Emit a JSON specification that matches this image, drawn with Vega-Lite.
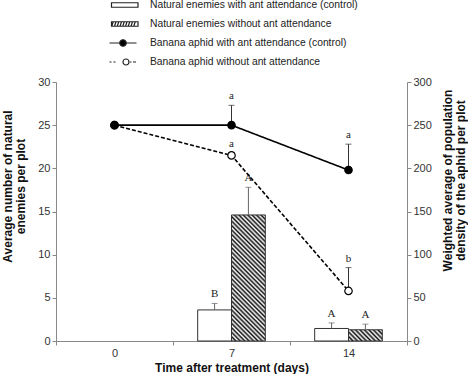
{
  "$schema": "https://vega.github.io/schema/vega-lite/v6.json",
  "width": 468,
  "height": 374,
  "autosize": {"type": "fit", "contains": "padding"},
  "padding": {"left": 1, "right": 1, "top": 76, "bottom": 1},
  "background": "white",
  "config": {
    "view": {"stroke": null},
    "font": "Liberation Sans",
    "axis": {
      "grid": false,
      "domainColor": "#888",
      "tickColor": "#888",
      "labelColor": "#333",
      "labelFontSize": 11,
      "labelFont": "Liberation Sans",
      "titleFont": "Liberation Sans",
      "titleFontSize": 12,
      "titleFontWeight": "bold",
      "titleColor": "#111",
      "tickSize": 4,
      "labelPadding": 2,
      "titleLineHeight": 13
    }
  },
  "datasets": {
    "ne": [
      {"day": 7, "item": "Natural enemies with ant attendance (control)", "mean": 3.6, "hi": 4.35, "letter": "B"},
      {"day": 7, "item": "Natural enemies without ant attendance", "mean": 14.6, "hi": 17.8, "letter": "A"},
      {"day": 14, "item": "Natural enemies with ant attendance (control)", "mean": 1.45, "hi": 2.1, "letter": "A"},
      {"day": 14, "item": "Natural enemies without ant attendance", "mean": 1.3, "hi": 1.95, "letter": "A"}
    ],
    "aphid": [
      {"day": 0, "item": "Banana aphid without ant attendance", "mean": 250, "hi": null, "letter": ""},
      {"day": 7, "item": "Banana aphid without ant attendance", "mean": 215, "hi": 218, "letter": "a"},
      {"day": 14, "item": "Banana aphid without ant attendance", "mean": 58, "hi": 85, "letter": "b"},
      {"day": 0, "item": "Banana aphid with ant attendance (control)", "mean": 250, "hi": null, "letter": ""},
      {"day": 7, "item": "Banana aphid with ant attendance (control)", "mean": 250, "hi": 273, "letter": "a"},
      {"day": 14, "item": "Banana aphid with ant attendance (control)", "mean": 198, "hi": 228, "letter": "a"}
    ]
  },
  "layer": [
    {
      "data": {"name": "ne"},
      "encoding": {
        "x": {
          "field": "day", "type": "ordinal",
          "scale": {"domain": [0, 7, 14], "paddingInner": 0, "paddingOuter": 0},
          "axis": {"title": "Time after treatment (days)", "labelAngle": 0, "tickBand": "extent", "titlePadding": 4}
        },
        "xOffset": {
          "field": "item", "type": "nominal",
          "scale": {"domain": ["Natural enemies with ant attendance (control)", "Natural enemies without ant attendance"], "paddingInner": 0, "paddingOuter": 0.73}
        }
      },
      "layer": [
        {
          "mark": {"type": "bar", "stroke": "#333", "strokeWidth": 1},
          "encoding": {
            "y": {
              "field": "mean", "type": "quantitative",
              "scale": {"domain": [0, 30], "nice": false},
              "axis": {"title": ["Average number of natural", "enemies per plot"], "values": [0, 5, 10, 15, 20, 25, 30], "titlePadding": 10, "titleY": 104}
            },
            "fill": {
              "condition": [
                {
                  "test": "datum.item === 'Natural enemies without ant attendance' && datum.day === 7",
                  "value": {
                    "gradient": "linear", "x1": 1, "y1": 0, "x2": 0.68, "y2": 1.184,
                    "stops": [
                      {"offset": 0, "color": "#111"}, {"offset": 0.0139, "color": "#fff"}, {"offset": 0.0278, "color": "#111"}, {"offset": 0.0417, "color": "#fff"},
                      {"offset": 0.0556, "color": "#111"}, {"offset": 0.0694, "color": "#fff"}, {"offset": 0.0833, "color": "#111"}, {"offset": 0.0972, "color": "#fff"},
                      {"offset": 0.1111, "color": "#111"}, {"offset": 0.125, "color": "#fff"}, {"offset": 0.1389, "color": "#111"}, {"offset": 0.1528, "color": "#fff"},
                      {"offset": 0.1667, "color": "#111"}, {"offset": 0.1806, "color": "#fff"}, {"offset": 0.1944, "color": "#111"}, {"offset": 0.2083, "color": "#fff"},
                      {"offset": 0.2222, "color": "#111"}, {"offset": 0.2361, "color": "#fff"}, {"offset": 0.25, "color": "#111"}, {"offset": 0.2639, "color": "#fff"},
                      {"offset": 0.2778, "color": "#111"}, {"offset": 0.2917, "color": "#fff"}, {"offset": 0.3056, "color": "#111"}, {"offset": 0.3194, "color": "#fff"},
                      {"offset": 0.3333, "color": "#111"}, {"offset": 0.3472, "color": "#fff"}, {"offset": 0.3611, "color": "#111"}, {"offset": 0.375, "color": "#fff"},
                      {"offset": 0.3889, "color": "#111"}, {"offset": 0.4028, "color": "#fff"}, {"offset": 0.4167, "color": "#111"}, {"offset": 0.4306, "color": "#fff"},
                      {"offset": 0.4444, "color": "#111"}, {"offset": 0.4583, "color": "#fff"}, {"offset": 0.4722, "color": "#111"}, {"offset": 0.4861, "color": "#fff"},
                      {"offset": 0.5, "color": "#111"}, {"offset": 0.5139, "color": "#fff"}, {"offset": 0.5278, "color": "#111"}, {"offset": 0.5417, "color": "#fff"},
                      {"offset": 0.5556, "color": "#111"}, {"offset": 0.5694, "color": "#fff"}, {"offset": 0.5833, "color": "#111"}, {"offset": 0.5972, "color": "#fff"},
                      {"offset": 0.6111, "color": "#111"}, {"offset": 0.625, "color": "#fff"}, {"offset": 0.6389, "color": "#111"}, {"offset": 0.6528, "color": "#fff"},
                      {"offset": 0.6667, "color": "#111"}, {"offset": 0.6806, "color": "#fff"}, {"offset": 0.6944, "color": "#111"}, {"offset": 0.7083, "color": "#fff"},
                      {"offset": 0.7222, "color": "#111"}, {"offset": 0.7361, "color": "#fff"}, {"offset": 0.75, "color": "#111"}, {"offset": 0.7639, "color": "#fff"},
                      {"offset": 0.7778, "color": "#111"}, {"offset": 0.7917, "color": "#fff"}, {"offset": 0.8056, "color": "#111"}, {"offset": 0.8194, "color": "#fff"},
                      {"offset": 0.8333, "color": "#111"}, {"offset": 0.8472, "color": "#fff"}, {"offset": 0.8611, "color": "#111"}, {"offset": 0.875, "color": "#fff"},
                      {"offset": 0.8889, "color": "#111"}, {"offset": 0.9028, "color": "#fff"}, {"offset": 0.9167, "color": "#111"}, {"offset": 0.9306, "color": "#fff"},
                      {"offset": 0.9444, "color": "#111"}, {"offset": 0.9583, "color": "#fff"}, {"offset": 0.9722, "color": "#111"}, {"offset": 0.9861, "color": "#fff"},
                      {"offset": 1, "color": "#111"}
                    ]
                  }
                },
                {
                  "test": "datum.item === 'Natural enemies without ant attendance'",
                  "value": {
                    "gradient": "linear", "x1": 1, "y1": 0, "x2": -0.198, "y2": 0.388,
                    "stops": [
                      {"offset": 0, "color": "#111"}, {"offset": 0.05, "color": "#fff"}, {"offset": 0.1, "color": "#111"}, {"offset": 0.15, "color": "#fff"},
                      {"offset": 0.2, "color": "#111"}, {"offset": 0.25, "color": "#fff"}, {"offset": 0.3, "color": "#111"}, {"offset": 0.35, "color": "#fff"},
                      {"offset": 0.4, "color": "#111"}, {"offset": 0.45, "color": "#fff"}, {"offset": 0.5, "color": "#111"}, {"offset": 0.55, "color": "#fff"},
                      {"offset": 0.6, "color": "#111"}, {"offset": 0.65, "color": "#fff"}, {"offset": 0.7, "color": "#111"}, {"offset": 0.75, "color": "#fff"},
                      {"offset": 0.8, "color": "#111"}, {"offset": 0.85, "color": "#fff"}, {"offset": 0.9, "color": "#111"}, {"offset": 0.95, "color": "#fff"},
                      {"offset": 1, "color": "#111"}
                    ]
                  }
                }
              ],
              "value": "white"
            }
          }
        },
        {
          "mark": {"type": "rule", "color": "#666", "strokeWidth": 1},
          "encoding": {
            "y": {"field": "mean", "type": "quantitative", "scale": {"domain": [0, 30], "nice": false}},
            "y2": {"field": "hi"}
          }
        },
        {
          "mark": {"type": "tick", "orient": "horizontal", "size": 6, "thickness": 1, "color": "#666"},
          "encoding": {
            "y": {"field": "hi", "type": "quantitative", "scale": {"domain": [0, 30], "nice": false}}
          }
        },
        {
          "mark": {"type": "text", "font": "Liberation Serif", "fontSize": 11, "baseline": "alphabetic", "dy": -6, "color": "#222"},
          "encoding": {
            "y": {"field": "hi", "type": "quantitative", "scale": {"domain": [0, 30], "nice": false}},
            "text": {"field": "letter"}
          }
        }
      ]
    },
    {
      "data": {"name": "aphid"},
      "encoding": {
        "x": {"field": "day", "type": "ordinal"}
      },
      "layer": [
        {
          "mark": {"type": "line", "color": "black", "strokeWidth": 1.6},
          "encoding": {
            "y": {
              "field": "mean", "type": "quantitative",
              "scale": {"domain": [0, 300], "nice": false},
              "axis": {"orient": "right", "title": ["Weighted average of population", "density of the aphid per plot"], "titleAngle": 270, "values": [0, 50, 100, 150, 200, 250, 300], "titlePadding": 10, "titleY": 98}
            },
            "strokeDash": {
              "field": "item", "type": "nominal",
              "scale": {"domain": ["Banana aphid with ant attendance (control)", "Banana aphid without ant attendance"], "range": [[1, 0], [4, 2]]},
              "legend": null
            }
          }
        },
        {
          "transform": [{"filter": "datum.hi != null"}],
          "mark": {"type": "rule", "color": "#333", "strokeWidth": 1},
          "encoding": {
            "y": {"field": "mean", "type": "quantitative", "scale": {"domain": [0, 300], "nice": false}},
            "y2": {"field": "hi"}
          }
        },
        {
          "transform": [{"filter": "datum.hi != null"}],
          "mark": {"type": "tick", "orient": "horizontal", "size": 6, "thickness": 1, "color": "#333"},
          "encoding": {
            "y": {"field": "hi", "type": "quantitative", "scale": {"domain": [0, 300], "nice": false}}
          }
        },
        {
          "mark": {"type": "point", "shape": "circle", "filled": true, "size": 55, "stroke": "black", "strokeWidth": 1.2, "opacity": 1},
          "encoding": {
            "y": {"field": "mean", "type": "quantitative", "scale": {"domain": [0, 300], "nice": false}},
            "fill": {
              "condition": {"test": "datum.item === 'Banana aphid with ant attendance (control)'", "value": "black"},
              "value": "white"
            }
          }
        },
        {
          "mark": {"type": "point", "filled": true, "opacity": 0, "stroke": "#222", "strokeWidth": 1.2},
          "encoding": {
            "y": {"field": "mean", "type": "quantitative", "scale": {"domain": [0, 300], "nice": false}},
            "fill": {
              "field": "item", "type": "nominal",
              "scale": {
                "domain": ["Natural enemies with ant attendance (control)", "Natural enemies without ant attendance", "Banana aphid with ant attendance (control)", "Banana aphid without ant attendance"],
                "range": ["white", "white", "black", "white"]
              },
              "legend": {
                "title": null, "orient": "none", "legendX": 61, "legendY": -83, "direction": "vertical",
                "labelFont": "Liberation Sans", "labelFontSize": 10.3, "labelColor": "#222", "labelLimit": 0,
                "symbolSize": 100, "labelOffset": 21, "rowPadding": 7, "symbolOpacity": 1,
                "symbolStrokeWidth": 1.2
              }
            },
            "shape": {
              "field": "item", "type": "nominal",
              "scale": {
                "domain": ["Natural enemies with ant attendance (control)", "Natural enemies without ant attendance", "Banana aphid with ant attendance (control)", "Banana aphid without ant attendance"],
                "range": [
                  "M-2.3,-0.45H3V0.45H-2.3Z",
                  "M-2.3,-0.45H3V0.45H-2.3ZM-2.25,0.45L-1.95,-0.45M-1.7,0.45L-1.4,-0.45M-1.15,0.45L-0.85,-0.45M-0.6,0.45L-0.3,-0.45M-0.05,0.45L0.25,-0.45M0.5,0.45L0.8,-0.45M1.05,0.45L1.35,-0.45M1.6,0.45L1.9,-0.45M2.15,0.45L2.45,-0.45",
                  "M-2.7,0H-0.65M0.65,0H2.7M0.65,0A0.65,0.65 0 1,1 -0.65,0A0.65,0.65 0 1,1 0.65,0Z",
                  "M-2.7,0H-2.3M-1.9,0H-1.5M1.4,0H1.7M2,0H2.6M1.2,0A0.6,0.6 0 1,1 0,0A0.6,0.6 0 1,1 1.2,0Z"
                ]
              },
              "legend": {
                "title": null, "orient": "none", "legendX": 61, "legendY": -83, "direction": "vertical",
                "labelFont": "Liberation Sans", "labelFontSize": 10.3, "labelColor": "#222", "labelLimit": 0,
                "symbolSize": 100, "labelOffset": 21, "rowPadding": 7, "symbolOpacity": 1,
                "symbolStrokeWidth": 1.2
              }
            }
          }
        },
        {
          "transform": [{"filter": "datum.hi != null"}],
          "mark": {"type": "text", "font": "Liberation Serif", "fontSize": 11, "baseline": "alphabetic", "dy": -6, "color": "#222"},
          "encoding": {
            "y": {"field": "hi", "type": "quantitative", "scale": {"domain": [0, 300], "nice": false}},
            "text": {"field": "letter"}
          }
        }
      ]
    }
  ],
  "resolve": {"scale": {"y": "independent"}}
}
